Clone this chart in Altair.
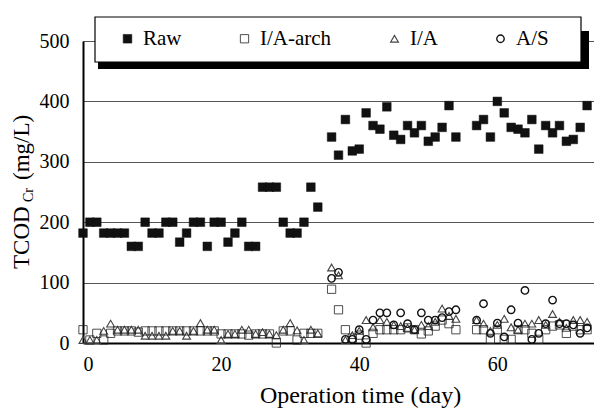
import altair as alt
import pandas as pd

FONT = "Liberation Serif"

series_names = ["Raw", "I/A-arch", "I/A", "A/S"]

days_main = list(range(0, 35)) + list(range(36, 55)) + list(range(57, 74))
days_as = list(range(36, 55)) + list(range(57, 74))

raw_vals = [182, 200, 200, 182, 182, 182, 182, 160, 160, 200, 182, 182, 200, 200, 167,
            182, 200, 200, 160, 200, 200, 167, 182, 200, 160, 160, 258, 258, 258, 200,
            182, 182, 200, 258, 225,
            341, 311, 370, 318, 321, 381, 360, 354, 391, 344, 337, 360, 348, 360, 334,
            341, 357, 393, 341,
            360, 370, 341, 400, 381, 357, 354, 348, 370, 321, 360, 348, 360, 334, 337,
            357, 393]

iaarch_vals = [22, 5, 16, 5, 16, 20, 20, 20, 18, 20, 20, 20, 20, 20, 20,
               20, 20, 20, 20, 20, 15, 15, 15, 15, 13, 15, 15, 15, 0, 20,
               20, 5, 16, 16, 16,
               89, 55, 22, 8, 13, 0, 16, 22, 22, 22, 22, 25, 22, 15, 20,
               28, 38, 32, 22,
               22, 22, 6, 22, 6, 6, 22, 22, 16, 6, 22, 28, 30, 16, 28,
               22, 22]

ia_vals = [5, 5, 5, 20, 32, 22, 22, 22, 22, 12, 12, 12, 12, 20, 20,
           12, 20, 33, 22, 22, 5, 15, 15, 22, 22, 15, 18, 15, 13, 22,
           33, 21, 5, 22, 16,
           125, 112, 5, 13, 20, 38, 26, 38, 35, 30, 28, 25, 22, 30, 28,
           35, 57, 45, 40,
           38, 32, 20, 30, 40, 26, 22, 32, 32, 38, 30, 48, 35, 25, 38,
           38, 35]

as_vals = [107, 117, 6, 6, 22, 6, 38, 50, 50, 30, 50, 32, 22, 50, 38,
           38, 42, 52, 55,
           38, 65, 16, 33, 10, 55, 33, 87, 6, 16, 32, 71, 32, 32, 30,
           16, 25]

x_ticks = [0, 20, 40, 60]
y_ticks = [0, 100, 200, 300, 400, 500]

rows = []
for d, v in zip(days_main, ia_vals):
    rows.append({"day": d, "value": v, "series": "I/A"})
for d, v in zip(days_main, iaarch_vals):
    rows.append({"day": d, "value": v, "series": "I/A-arch"})
for d, v in zip(days_as, as_vals):
    rows.append({"day": d, "value": v, "series": "A/S"})
for d, v in zip(days_main, raw_vals):
    rows.append({"day": d, "value": v, "series": "Raw"})
df = pd.DataFrame(rows)
df["order"] = df["series"].map({"I/A": 0, "I/A-arch": 1, "A/S": 2, "Raw": 3})

leg = alt.Legend(
    title=None, orient="none", direction="horizontal",
    legendX=34, legendY=-13, padding=0,
    labelFont=FONT, labelFontSize=21, labelColor="black",
    labelOffset=5, columnPadding=52,
)

points = alt.Chart(df).mark_point(filled=True, opacity=1).encode(
    x=alt.X("day:Q", scale=alt.Scale(domain=[0, 74], nice=False),
            axis=alt.Axis(values=x_ticks, title="Operation time (day)", grid=False,
                          ticks=False, domainColor="black", domainWidth=2,
                          labelFont=FONT, labelFontSize=20, labelColor="black",
                          labelPadding=11, titleFont=FONT, titleFontSize=24,
                          titleFontWeight="normal", titleColor="black",
                          titleX=277, titleY=59, titleAlign="center",
                          titleBaseline="alphabetic")),
    y=alt.Y("value:Q", scale=alt.Scale(domain=[0, 500], nice=False),
            axis=alt.Axis(values=y_ticks, title=None, grid=True, gridColor="#555",
                          gridWidth=1, ticks=False, domainColor="black", domainWidth=2,
                          labelFont=FONT, labelFontSize=20, labelColor="black",
                          labelPadding=14)),
    shape=alt.Shape("series:N", scale=alt.Scale(domain=series_names,
                    range=["square", "square", "triangle-up", "circle"]), legend=leg),
    fill=alt.Fill("series:N", scale=alt.Scale(domain=series_names,
                  range=["#111111", "transparent", "transparent", "transparent"]), legend=leg),
    stroke=alt.Stroke("series:N", scale=alt.Scale(domain=series_names,
                      range=["#111111", "#222222", "#444444", "#111111"]), legend=leg),
    size=alt.Size("series:N", scale=alt.Scale(domain=series_names,
                  range=[75, 55, 80, 50]), legend=leg),
    strokeWidth=alt.StrokeWidth("series:N", scale=alt.Scale(domain=series_names,
                                range=[0.5, 1.4, 1.0, 2.8]), legend=leg),
    order=alt.Order("order:Q"),
)

one = pd.DataFrame({"a": [0]})
shadow = alt.Chart(one).mark_rect(color="black").encode(
    x=alt.value(15), x2=alt.value(506), y=alt.value(-10), y2=alt.value(28))
box = alt.Chart(one).mark_rect(fill="white", stroke="black", strokeWidth=1.2).encode(
    x=alt.value(12), x2=alt.value(498), y=alt.value(-24), y2=alt.value(21))

t1 = alt.Chart(one).mark_text(text="TCOD", angle=270, align="left", baseline="middle",
                              font=FONT, fontSize=23, color="black").encode(
    x=alt.value(-61), y=alt.value(228))
t2 = alt.Chart(one).mark_text(text="Cr", angle=270, align="left", baseline="middle",
                              font=FONT, fontSize=14, color="black").encode(
    x=alt.value(-54), y=alt.value(161))
t3 = alt.Chart(one).mark_text(text="(mg/L)", angle=270, align="left", baseline="middle",
                              font=FONT, fontSize=23, color="black").encode(
    x=alt.value(-61), y=alt.value(139))

chart = alt.layer(points, shadow, box, t1, t2, t3).properties(
    width=511, height=302,
    autosize=alt.AutoSizeParams(type="none"),
    padding={"left": 83, "top": 41, "right": 0, "bottom": 69},
).configure_view(stroke=None).configure(background="white").configure_axis(
    labelFont=FONT, titleFont=FONT
)

chart.save("out.html", embed_options={"renderer": "svg", "actions": False})
